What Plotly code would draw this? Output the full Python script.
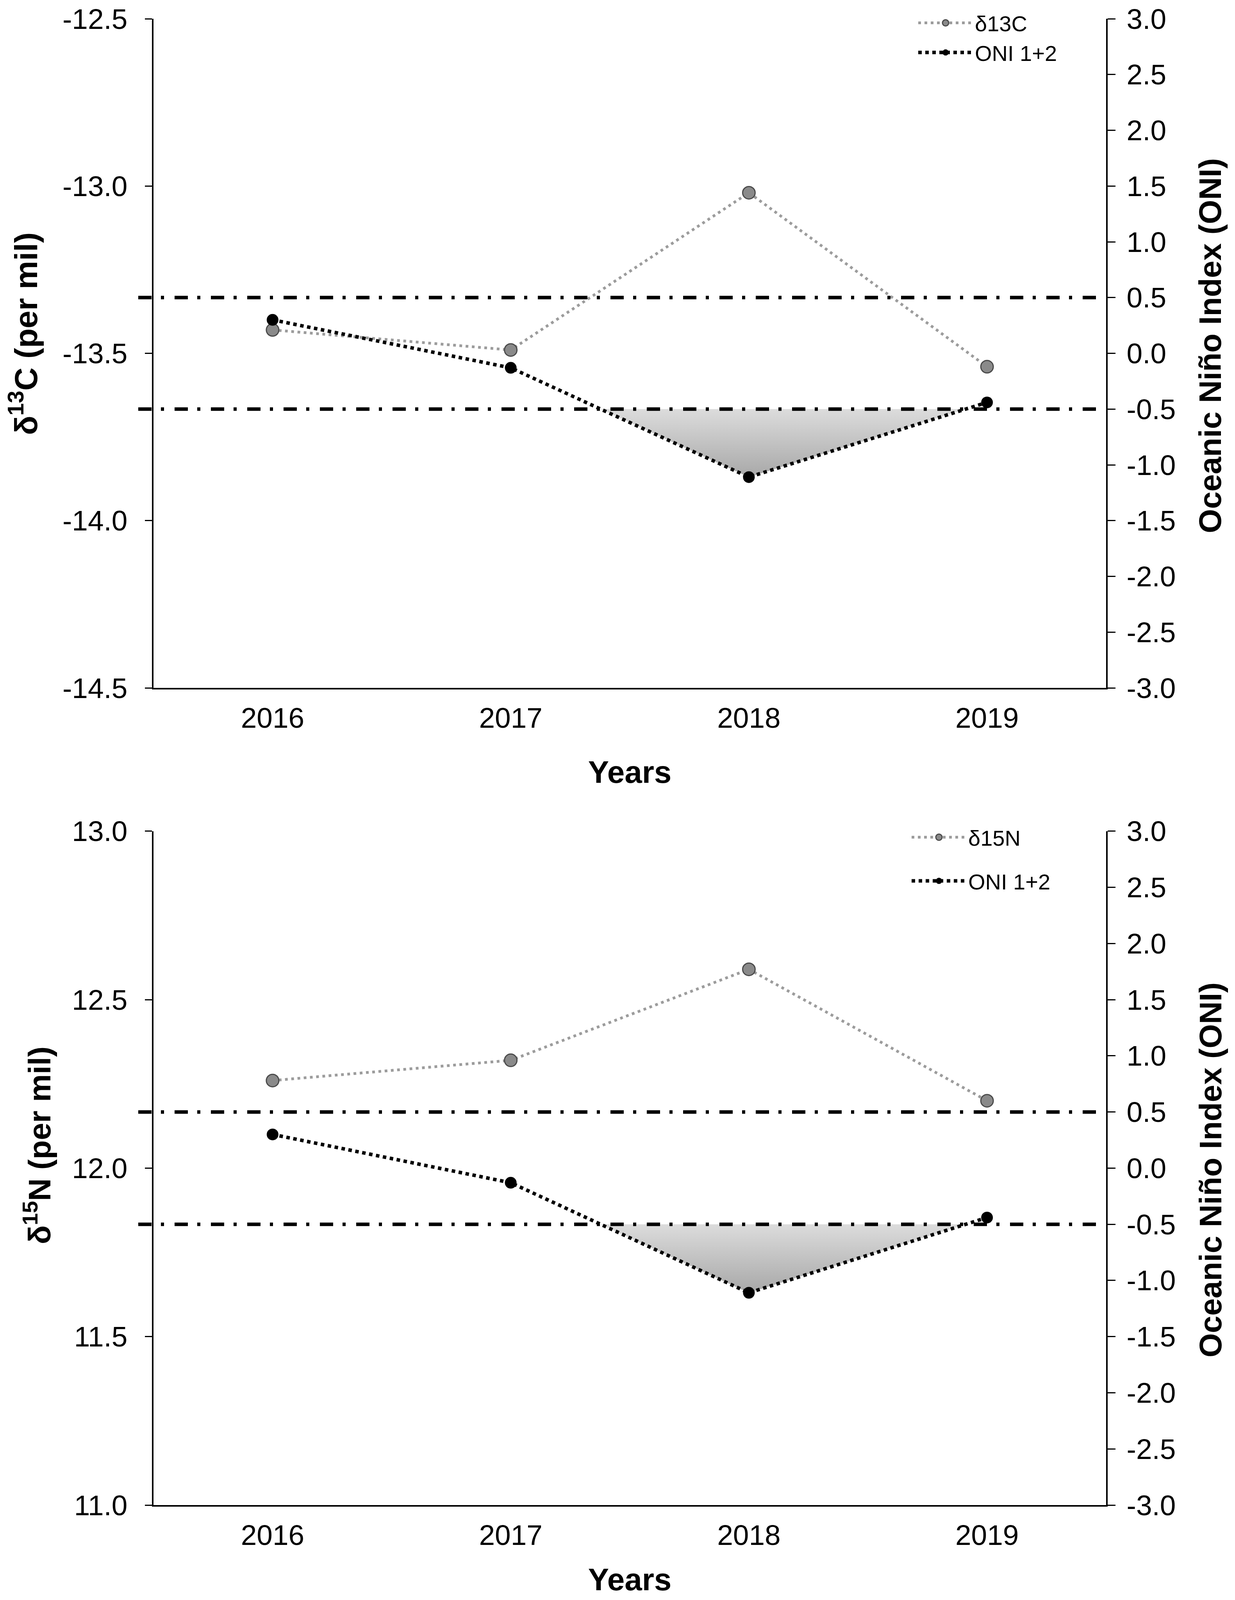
import plotly.graph_objects as go

# values
years = [2016, 2017, 2018, 2019]
d13c = [-13.43, -13.49, -13.02, -13.54]
d15n = [12.26, 12.32, 12.59, 12.20]
oni = [0.30, -0.13, -1.11, -0.44]
oni_limits = [0.5, -0.5]

FONT = "Liberation Sans, Arial, sans-serif"
ML, MR, MT, MB = 385, 322, 40, 235
# page is the browser window minus the default 8px body margin
FIG_W = 3146
PLOT_W = FIG_W - ML - MR


def px(x_page):
    return (x_page - 8 - ML) / PLOT_W


def below_area(xs, ys, level):
    # polygon of the part of the ONI line that lies below `level`
    qx, qy = [], []
    for i in range(len(xs) - 1):
        x0, y0, x1, y1 = xs[i], ys[i], xs[i + 1], ys[i + 1]
        if y0 < level:
            qx.append(x0); qy.append(y0)
        if (y0 - level) * (y1 - level) < 0:
            t = (level - y0) / (y1 - y0)
            qx.append(x0 + t * (x1 - x0)); qy.append(level)
    if ys[-1] < level:
        qx.append(xs[-1]); qy.append(ys[-1])
    return qx, qy


def ticks(lo, hi):
    vals = [lo + 0.5 * i for i in range(int(round((hi - lo) / 0.5)) + 1)]
    return vals, [f"{v:.1f}" for v in vals]


fig = go.Figure()

panels = [
    dict(vals=d13c, name="δ13C", x="x", y="y", y2="y2", legend="legend"),
    dict(vals=d15n, name="δ15N", x="x2", y="y3", y2="y4", legend="legend2"),
]

for p in panels:
    fx, fy = below_area(years, oni, oni_limits[1])
    fig.add_trace(go.Scatter(
        x=fx, y=fy, xaxis=p["x"], yaxis=p["y2"], mode="none",
        fill="toself", fillcolor="#c8c8c8",
        fillgradient=dict(type="vertical",
                          colorscale=[[0, "#a8a8a8"], [1, "#dcdcdc"]]),
        showlegend=False, hoverinfo="skip",
    ))
    fig.add_trace(go.Scatter(
        x=years, y=p["vals"], xaxis=p["x"], yaxis=p["y"], name=p["name"],
        mode="lines+markers", legend=p["legend"], legendgroup=p["name"],
        line=dict(color="#9c9c9c", width=7, dash="7px,9px"),
        marker=dict(size=32, color="#8a8a8a", line=dict(color="#4a4a4a", width=3)),
    ))
    fig.add_trace(go.Scatter(
        x=years, y=oni, xaxis=p["x"], yaxis=p["y2"], name="ONI 1+2",
        mode="lines+markers", legend=p["legend"], legendgroup="oni",
        line=dict(color="black", width=9, dash="9px,9px"),
        marker=dict(size=30, color="black"),
    ))
    for lim in oni_limits:
        fig.add_shape(type="line", xref=p["x"] + " domain", yref=p["y2"],
                      x0=-0.016, x1=0.991, y0=lim, y1=lim,
                      line=dict(color="black", width=9, dash="34px,24px,8px,27px"))

top_dom = [0.5498, 1]
bot_dom = [0, 0.4534]

tickfont = dict(family=FONT, size=73, color="black")


def xax(anchor, title_gap):
    return dict(domain=[0, 1], anchor=anchor, range=[2015.5, 2019.5],
                tickvals=years, ticks="", showgrid=False, zeroline=False,
                showline=True, linecolor="black", linewidth=4,
                tickfont=tickfont, ticklabelstandoff=10,
                title=dict(text="<b>Years</b>", standoff=title_gap,
                           font=dict(family=FONT, size=80, color="black")))


def yax(dom, rng, anchor):
    tv, tt = ticks(*rng)
    return dict(domain=dom, anchor=anchor, range=rng, tickvals=tv, ticktext=tt,
                ticks="outside", ticklen=18, tickwidth=3, tickcolor="black",
                showgrid=False, zeroline=False, showline=True, linecolor="black",
                linewidth=4, tickfont=tickfont, ticklabelstandoff=30,
                ticklabeloverflow="allow")


def y2ax(over, anchor):
    tv, tt = ticks(-3, 3)
    return dict(overlaying=over, side="right", anchor=anchor, range=[-3, 3],
                tickvals=tv, ticktext=tt, ticks="outside", ticklen=20,
                tickwidth=3, tickcolor="black", showgrid=False, zeroline=False,
                showline=True, linecolor="black", linewidth=4, tickfont=tickfont,
                ticklabelstandoff=14, ticklabeloverflow="allow")


legend_common = dict(xanchor="left", yanchor="top", bgcolor="rgba(0,0,0,0)",
                     font=dict(family=FONT, size=56, color="black"),
                     itemwidth=140, traceorder="grouped")

# axis titles placed where the reference has them (x in page px, y in paper)
titles = [
    ("<b>δ<sup>13</sup>C (per mil)</b>", 60, 0.788, 82),
    ("<b>δ<sup>15</sup>N (per mil)</b>", 96, 0.242, 80),
    ("<b>Oceanic Niño Index (ONI)</b>", 3098, 0.780, 80),
    ("<b>Oceanic Niño Index (ONI)</b>", 3100, 0.2255, 80),
]
annotations = [
    dict(text=t, xref="paper", yref="paper", x=px(xp), y=yp,
         xanchor="center", yanchor="middle", textangle=-90, showarrow=False,
         font=dict(family=FONT, size=s, color="black"))
    for t, xp, yp, s in titles
]

fig.update_layout(
    autosize=True,
    margin=dict(l=ML, r=MR, t=MT, b=MB, autoexpand=False),
    paper_bgcolor="white", plot_bgcolor="white",
    font=dict(family=FONT, color="black"),
    xaxis=xax("y", 72),
    yaxis=yax(top_dom, [-14.5, -12.5], "x"),
    yaxis2=y2ax("y", "x"),
    xaxis2=xax("y3", 50),
    yaxis3=yax(bot_dom, [11, 13], "x2"),
    yaxis4=y2ax("y3", "x2"),
    legend=dict(x=px(2346), y=1.0085, tracegroupgap=0, **legend_common),
    legend2=dict(x=px(2329), y=0.4606, tracegroupgap=36, **legend_common),
    annotations=annotations,
)

fig.write_html("out.html", default_width="100%", default_height="calc(100vh - 16px)")
